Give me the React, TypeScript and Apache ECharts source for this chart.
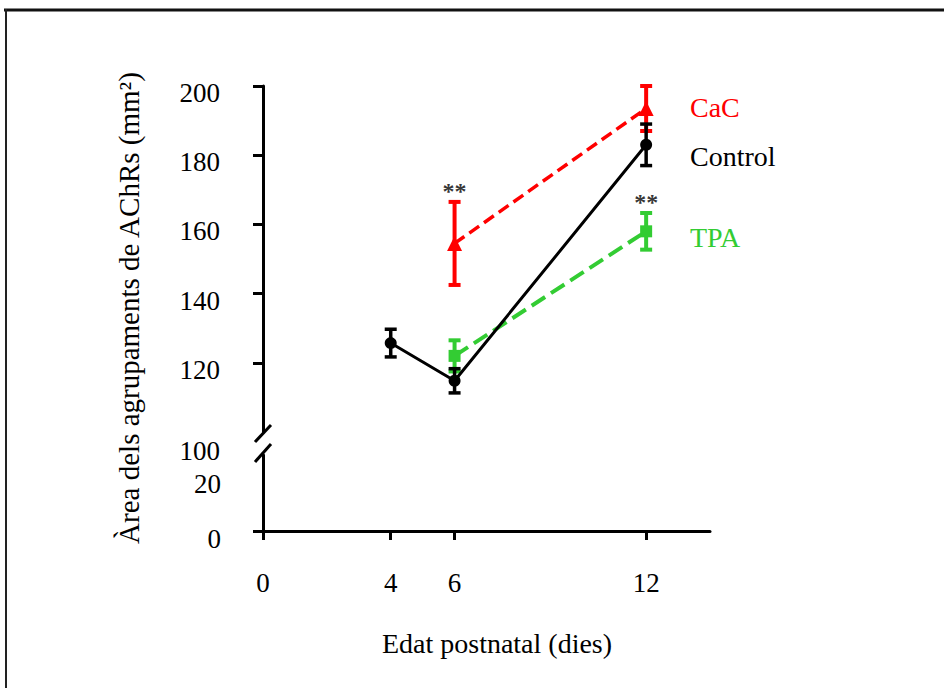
import React, { useEffect, useRef } from "react";
import * as echarts from "echarts";

const FONT = "'Liberation Serif', 'Times New Roman', serif";

// x axis
const xTicks = [0, 4, 6, 12];
// y axis (broken): upper segment and lower segment
const yUpperTicks = [120, 140, 160, 180, 200];
const yUpperLabels = [100, 120, 140, 160, 180, 200];
const yLowerTicks = [0];
const yLowerLabels = [0, 20];

// series
const controlDays = [4, 6, 12];
const controlMean = [125.7, 114.8, 183];
const controlErr = [4, 3.5, 6];

const cacDays = [6, 12];
const cacMean = [154.5, 193.5];
const cacErr = [12, 6.5];

const tpaDays = [6, 12];
const tpaMean = [122, 158];
const tpaErr = [4.5, 5.3];

// significance marks: [day, value above which "**" sits]
const starMarks = [
  [6, 166.5],
  [12, 163.5],
];

const seriesNames = ["CaC", "Control", "TPA"];
const RED = "#ff0000";
const BLACK = "#000000";
const GREEN = "#33cc33";

function errData(days: number[], mean: number[], err: number[]) {
  return days.map((d, i) => [d, mean[i] - err[i], mean[i] + err[i]]);
}

function errSeries(name: string, days: number[], mean: number[], err: number[], color: string, lw: number, z: number) {
  return {
    type: "custom",
    name: name + "-err",
    xAxisIndex: 0,
    yAxisIndex: 0,
    z,
    data: errData(days, mean, err),
    renderItem: (params: any, api: any) => {
      const x = api.value(0);
      const lo = api.value(1);
      const hi = api.value(2);
      const t = api.coord([x, hi]);
      const b = api.coord([x, lo]);
      const hw = 6;
      const st = { stroke: color, lineWidth: lw };
      return {
        type: "group",
        children: [
          { type: "line", shape: { x1: t[0], y1: t[1], x2: b[0], y2: b[1] }, style: st },
          { type: "line", shape: { x1: t[0] - hw, y1: t[1], x2: t[0] + hw, y2: t[1] }, style: st },
          { type: "line", shape: { x1: b[0] - hw, y1: b[1], x2: b[0] + hw, y2: b[1] }, style: st },
        ],
      };
    },
  };
}

function lineSeries(name: string, days: number[], mean: number[], color: string, symbol: string, size: number, lineType: any, lw: number, z: number) {
  return {
    type: "line",
    name,
    xAxisIndex: 0,
    yAxisIndex: 0,
    z,
    data: days.map((d, i) => [d, mean[i]]),
    symbol,
    symbolSize: size,
    showAllSymbol: true,
    lineStyle: { color, width: lw, type: lineType },
    itemStyle: { color, borderWidth: 0 },
  };
}

export default function App() {
  const ref = useRef<HTMLDivElement>(null);
  useEffect(() => {
    if (!ref.current) return;
    const chart = echarts.init(ref.current, undefined, { renderer: "svg" });
    const axisLineStyle = { color: "#000", width: 3 };
    const labelBase = { color: "#000", fontFamily: FONT, fontSize: 27 };
    const option: any = {
      animation: false,
      backgroundColor: "#ffffff",
      grid: [
        { left: 263, right: 234, top: 86, height: 346, containLabel: false },
        { left: 263, right: 234, top: 455, bottom: 157, containLabel: false },
      ],
      xAxis: [
        { type: "value", gridIndex: 0, min: 0, max: 14, show: false },
        {
          type: "value",
          gridIndex: 1,
          min: 0,
          max: 14,
          splitLine: { show: false },
          axisLine: { show: true, lineStyle: axisLineStyle },
          axisTick: { show: true, length: 9, lineStyle: { color: "#000", width: 3 }, customValues: xTicks },
          axisLabel: { ...labelBase, margin: 38, customValues: xTicks },
        },
      ],
      yAxis: [
        {
          type: "value",
          gridIndex: 0,
          min: 100,
          max: 200,
          splitLine: { show: false },
          axisLine: { show: true, lineStyle: axisLineStyle },
          axisTick: { show: true, length: 10, lineStyle: { color: "#000", width: 3 }, customValues: yUpperTicks },
          axisLabel: {
            ...labelBase,
            margin: 43,
            customValues: yUpperLabels,
            formatter: (v: number) => (v === 100 ? `{b|${v}}` : `{a|${v}}`),
            rich: {
              a: { ...labelBase, padding: [14, 0, 0, 0] },
              b: { ...labelBase, padding: [38, 0, 0, 0] },
            },
          },
        },
        {
          type: "value",
          gridIndex: 1,
          min: 0,
          max: 27.6,
          splitLine: { show: false },
          axisLine: { show: true, lineStyle: axisLineStyle },
          axisTick: { show: true, length: 10, lineStyle: { color: "#000", width: 3 }, customValues: yLowerTicks },
          axisLabel: {
            ...labelBase,
            margin: 42,
            customValues: yLowerLabels,
            formatter: (v: number) => `{a|${v}}`,
            rich: { a: { ...labelBase, padding: [16, 0, 0, 0] } },
          },
        },
      ],
      series: [
        errSeries("TPA", tpaDays, tpaMean, tpaErr, GREEN, 4, 2),
        lineSeries(seriesNames[2], tpaDays, tpaMean, GREEN, "rect", 12, [16, 7], 4, 2),
        errSeries("CaC", cacDays, cacMean, cacErr, RED, 4, 3),
        lineSeries(seriesNames[0], cacDays, cacMean, RED, "triangle", 15, [12, 6], 3.5, 3),
        errSeries("Control", controlDays, controlMean, controlErr, BLACK, 3.5, 4),
        lineSeries(seriesNames[1], controlDays, controlMean, BLACK, "circle", 12, "solid", 3, 4),
        {
          type: "scatter",
          name: "sig",
          xAxisIndex: 0,
          yAxisIndex: 0,
          symbolSize: 1,
          itemStyle: { color: "rgba(0,0,0,0)" },
          data: starMarks,
          label: {
            show: true,
            position: "top",
            distance: -2,
            formatter: "**",
            color: "#000",
            fontFamily: FONT,
            fontSize: 24,
            fontWeight: "bold",
          },
          z: 5,
        },
      ],
      graphic: [
        // frame
        { type: "line", shape: { x1: 4, y1: 10, x2: 944, y2: 10 }, style: { stroke: "#111", lineWidth: 3 } },
        { type: "line", shape: { x1: 6, y1: 9, x2: 6, y2: 688 }, style: { stroke: "#222", lineWidth: 2 } },
        // axis break marks
        { type: "line", shape: { x1: 255, y1: 442, x2: 271, y2: 425 }, style: { stroke: "#000", lineWidth: 3 } },
        { type: "line", shape: { x1: 255, y1: 462, x2: 271, y2: 444 }, style: { stroke: "#000", lineWidth: 3 } },
        // series labels
        { type: "text", x: 690, y: 107, style: { text: seriesNames[0], fill: RED, font: `28px ${FONT}`, textVerticalAlign: "middle" } },
        { type: "text", x: 690, y: 156, style: { text: seriesNames[1], fill: BLACK, font: `28px ${FONT}`, textVerticalAlign: "middle" } },
        { type: "text", x: 690, y: 237, style: { text: seriesNames[2], fill: GREEN, font: `28px ${FONT}`, textVerticalAlign: "middle" } },
        // axis titles
        {
          type: "text",
          x: 129,
          y: 308,
          rotation: Math.PI / 2,
          style: {
            text: "Àrea dels agrupaments de AChRs (mm²)",
            fill: "#000",
            font: `29px ${FONT}`,
            textAlign: "center",
            textVerticalAlign: "middle",
          },
        },
        {
          type: "text",
          x: 497,
          y: 643,
          style: {
            text: "Edat postnatal (dies)",
            fill: "#000",
            font: `28px ${FONT}`,
            textAlign: "center",
            textVerticalAlign: "middle",
          },
        },
      ],
    };
    chart.setOption(option);
    return () => chart.dispose();
  }, []);
  return <div ref={ref} style={{ position: "fixed", left: 0, top: 0, width: 944, height: 688 }} />;
}
